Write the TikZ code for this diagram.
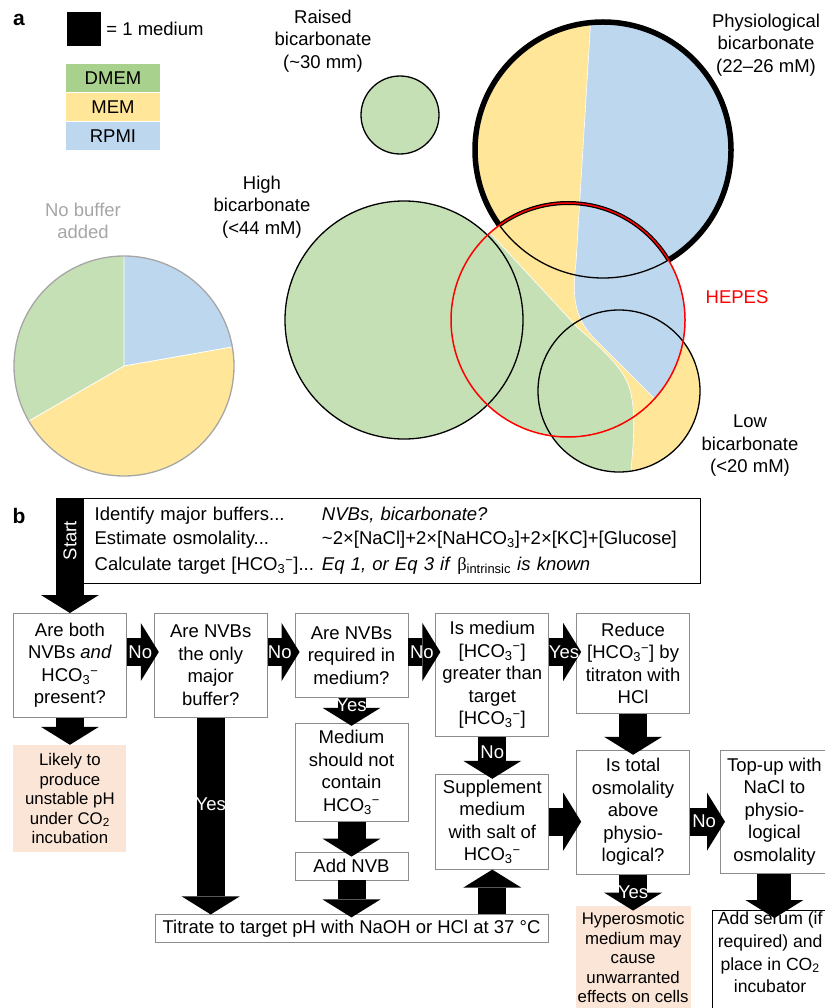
\documentclass[tikz,border=0pt]{standalone}
\usepackage{fontspec}
\setmainfont{Liberation Sans}
\newfontfamily\symbolfont{Liberation Serif}
\usetikzlibrary{positioning,arrows.meta}

\definecolor{dmemleg}{HTML}{A9D18E}
\definecolor{cgreen}{HTML}{C5E0B4}
\definecolor{cyellow}{HTML}{FFE699}
\definecolor{cblue}{HTML}{BDD7EE}
\definecolor{peach}{HTML}{FBE5D6}
\definecolor{boxgray}{HTML}{8C8C8C}
\definecolor{piegray}{HTML}{A6A6A6}

\newcommand\bodyfont{\fontsize{18.5}{22.5}\selectfont}
\newcommand\smallfont{\fontsize{16.8}{19.5}\selectfont}
\newcommand\hco{HCO\textsubscript{3}\textsuperscript{−}}

\tikzset{
  legend/.style={minimum width=94pt, minimum height=28.5pt, inner sep=0pt},
  caption/.style={align=center, inner sep=0pt},
  qbox/.style={draw=boxgray, line width=0.8pt, minimum width=113pt, align=center, inner sep=2pt},
  warnbox/.style={fill=peach, minimum width=113pt, align=center, inner sep=2pt, font=\smallfont},
  bigarrow/.style={line width=28pt, -{Triangle[length=18pt,width=58pt,line width=0pt]}, shorten >=-5pt},
  lbl/.style={text=white, inner sep=0pt},
}

\begin{document}
\begin{tikzpicture}[x=1pt, y=-1pt, font=\bodyfont]
\useasboundingbox (0,0) rectangle (824,1008);

% a: key and legend
\node[font=\bfseries\fontsize{21}{24}\selectfont] (panela) at (19,20) {a};
\node[fill=black, minimum size=34pt, inner sep=0pt] (unit) at (84,29) {};
\node[right=5pt of unit, inner sep=0pt] (unitlbl) {= 1 medium};
\node[legend, fill=dmemleg] (dmem) at (113,78) {DMEM};
\node[legend, fill=cyellow, below=0pt of dmem] (mem) {MEM};
\node[legend, fill=cblue, below=0pt of mem] (rpmi) {RPMI};

\coordinate (pie) at (124,366);
\coordinate (raised) at (400,115);
\coordinate (high) at (404,320);
\coordinate (phys) at (603,150);
\coordinate (hepes) at (568,320);
\coordinate (low) at (619,391);

% pie of unbuffered media
\fill[cblue] (pie) -- ++(90:110pt) arc[start angle=90, end angle=10, radius=110pt] -- cycle;
\fill[cyellow] (pie) -- ++(10:110pt) arc[start angle=10, end angle=-150, radius=110pt] -- cycle;
\fill[cgreen] (pie) -- ++(210:110pt) arc[start angle=210, end angle=90, radius=110pt] -- cycle;
\draw[white, line width=0.8pt] (pie) -- ++(90:110pt) (pie) -- ++(10:110pt) (pie) -- ++(210:110pt);
\draw[piegray, line width=1.3pt] (pie) circle (110pt);

% euler diagram
\begin{scope}
  \clip (high) circle (119pt) (phys) circle (128pt) (hepes) circle (117pt) (low) circle (81pt);
  \fill[cgreen] (250,0) rectangle (760,480);
  \fill[cyellow, draw=white, line width=0.6pt] (380,114) -- (577,327)
    .. controls (603,350) and (624,368) .. (630,390)
    .. controls (636,412) and (634,440) .. (630,480) -- (760,480) -- (760,0) -- (380,0) -- cycle;
  \begin{scope}
    \clip (phys) circle (128pt) (hepes) circle (117pt);
    \fill[cblue, draw=white, line width=0.6pt] (592,0) -- (576,263)
      .. controls (572,295) and (574,317) .. (593,337) -- (700,444) -- (760,444) -- (760,0) -- cycle;
  \end{scope}
\end{scope}
\draw[fill=cgreen, line width=1.3pt] (raised) circle (39pt);
\draw[line width=1.3pt] (high) circle (119pt) (low) circle (81pt);
\begin{scope}[even odd rule]
  \clip (0,0) rectangle (824,500) (hepes) circle (117pt);
  \draw[line width=5.5pt] (phys) circle (128pt);
\end{scope}
\draw[line width=1.3pt] (phys) circle (128pt);
\begin{scope}
  \clip (phys) circle (128pt);
  \draw[line width=4pt] (hepes) circle (117pt);
\end{scope}
\draw[red, line width=1.5pt] (hepes) circle (117pt);

\node[caption] (raisedlbl) at (323,41) {Raised\\bicarbonate\\(\textasciitilde30 mm)};
\node[caption] (highlbl) at (262,207) {High\\bicarbonate\\(<44 mM)};
\node[caption] (physlbl) at (766,45) {Physiological\\bicarbonate\\(22–26 mM)};
\node[caption, text=red] (hepeslbl) at (737,297) {HEPES};
\node[caption] (lowlbl) at (750,446) {Low\\bicarbonate\\(<20 mM)};
\node[caption, text=piegray] (nonelbl) at (83,221) {No buffer\\added};

% b: flow chart
\node[font=\bfseries\fontsize{21}{24}\selectfont] (panelb) at (19,516) {b};
\node[draw, line width=1.3pt, anchor=north west, text width=594pt, inner xsep=12pt, inner ysep=0pt,
      minimum height=85pt, align=left] (steps) at (82,498) {%
  \begin{tabular}{@{}l@{\hspace{8pt}}l@{}}
  Identify major buffers... & \textit{NVBs, bicarbonate?}\\[1.5pt]
  Estimate osmolality... & \textasciitilde2×[NaCl]+2×[NaHCO\textsubscript{3}]+2×[KC]+[Glucose]\\[3pt]
  Calculate target [\hco]... & \textit{Eq 1, or Eq 3 if} {\symbolfont β}\textsubscript{intrinsic} \textit{is known}
  \end{tabular}};

\node[qbox, minimum height=104pt, anchor=north west] (q1) at (13,613) {Are both\\NVBs \textit{and}\\\hco\\present?};
\node[qbox, minimum height=104pt, below right=0pt and 27pt of q1.north east] (q2) {Are NVBs\\the only\\major\\buffer?};
\node[qbox, minimum height=84pt, below right=0pt and 27pt of q2.north east] (q3) {Are NVBs\\required in\\medium?};
\node[qbox, minimum height=123pt, below right=0pt and 27pt of q3.north east] (q4) {Is medium\\{}[\hco]\\greater than\\target\\{}[\hco]};
\node[qbox, minimum height=100pt, below right=0pt and 27pt of q4.north east] (q5) {Reduce\\{}[\hco] by\\titraton with\\HCl};
\node[warnbox, minimum height=107pt, below=27pt of q1] (unstable) {Likely to\\produce\\unstable pH\\under CO\textsubscript{2}\\incubation};
\node[qbox, minimum height=98pt, below=25pt of q3] (nobic) {Medium\\should not\\contain\\\hco};
\node[qbox, minimum height=28pt, below=30pt of nobic] (addnvb) {Add NVB};
\node[qbox, minimum width=393pt, minimum height=28pt, below=34pt of addnvb] (titr) {Titrate to target pH with NaOH or HCl at 37 °C};
\node[qbox, minimum height=95pt, below=37pt of q4] (supp) {Supplement\\medium\\with salt of\\\hco};
\node[qbox, minimum height=124pt, below=36pt of q5] (osmo) {Is total\\osmolality\\above\\physio-\\logical?};
\node[qbox, minimum width=108pt, minimum height=123pt, below right=0pt and 30pt of osmo.north east] (topup) {Top-up with\\NaCl to\\physio-\\logical\\osmolality};
\node[warnbox, minimum height=104pt, below=31pt of osmo] (hyper) {Hyperosmotic\\medium may\\cause\\unwarranted\\effects on cells};
\node[draw, line width=1.3pt, minimum width=115pt, minimum height=110pt, align=center, anchor=north west,
      inner sep=1pt, font=\fontsize{17.6}{22.8}\selectfont] (serum) at (712,910) {Add serum (if\\required) and\\place in CO\textsubscript{2}\\incubator\\[14pt]};

\coordinate (start) at (q1.north |- steps.north);
\coordinate (row) at (0,652);
\draw[bigarrow, shorten >=0pt] (start) -- (q1.north) node[lbl, rotate=90, pos=0.37] {Start};
\draw[bigarrow] (q1.east |- row) -- (q2.west |- row) node[lbl, pos=0.5] {No};
\draw[bigarrow] (q2.east |- row) -- (q3.west |- row) node[lbl, pos=0.45] {No};
\draw[bigarrow] (q3.east |- row) -- (q4.west |- row) node[lbl, pos=0.5] {No};
\draw[bigarrow] (q4.east |- row) -- (q5.west |- row) node[lbl, pos=0.55] {Yes};
\draw[bigarrow, shorten >=0pt] (q1.south) -- (unstable.north);
\draw[bigarrow, shorten >=0pt] (q2.south) -- (q2.south |- titr.north) node[lbl, pos=0.44] {Yes};
\draw[bigarrow, shorten >=-3pt] (q3.south) -- (nobic.north) node[lbl, pos=0.3] {Yes};
\draw[bigarrow] (nobic.south) -- (addnvb.north);
\draw[bigarrow, shorten >=-3pt] (addnvb.south) -- (addnvb.south |- titr.north);
\draw[bigarrow] (q4.south) -- (supp.north) node[lbl, pos=0.43] {No};
\draw[bigarrow, shorten >=0pt] (supp.south |- titr.north) -- (supp.south);
\draw[bigarrow] (q5.south) -- (osmo.north);
\draw[bigarrow] (supp.east) -- (osmo.west |- supp.east);
\draw[bigarrow] (osmo.east |- supp.east) -- (topup.west |- supp.east) node[lbl, pos=0.47] {No};
\draw[bigarrow] (osmo.south) -- (hyper.north) node[lbl, pos=0.58] {Yes};
\draw[bigarrow, line width=34pt, shorten >=-8pt] (topup.south) -- (topup.south |- serum.north);
\end{tikzpicture}
\end{document}
